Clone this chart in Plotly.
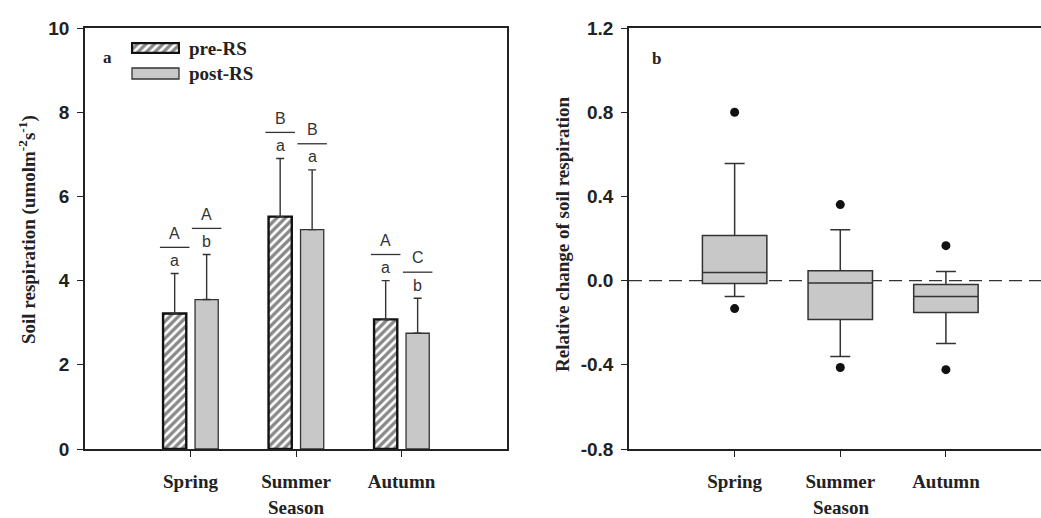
import plotly.graph_objects as go

# ---------------- data ----------------
seasons = ["Spring", "Summer", "Autumn"]
pre_mean = [3.22, 5.52, 3.08]
pre_err = [0.95, 1.38, 0.92]
post_mean = [3.55, 5.21, 2.75]
post_err = [1.07, 1.42, 0.83]
pre_lower = ["a", "a", "a"]
pre_upper = ["A", "B", "A"]
post_lower = ["b", "a", "b"]
post_upper = ["A", "B", "C"]

box_q1 = [-0.014, -0.185, -0.152]
box_median = [0.038, -0.011, -0.076]
box_q3 = [0.214, 0.047, -0.019]
box_low = [-0.076, -0.361, -0.299]
box_high = [0.556, 0.242, 0.043]
out_season = ["Spring", "Spring", "Summer", "Summer", "Autumn", "Autumn"]
out_value = [0.80, -0.133, 0.361, -0.413, 0.166, -0.423]

left_ticks = [0, 2, 4, 6, 8, 10]
right_ticks = [-0.8, -0.4, 0.0, 0.4, 0.8, 1.2]
right_ticktext = ["-0.8", "-0.4", "0.0", "0.4", "0.8", "1.2"]

# ---------------- geometry helpers ----------------
W, H = 1041, 518
TOP, BOT = 28, 449
def px(x):
    return x / W
def py(y):
    return (BOT - y) / (BOT - TOP)

SERIF = "Times New Roman, Liberation Serif, serif"
SANS = "Arial, Liberation Sans, sans-serif"
AX = "#222222"
BAR_W = 0.22
PRE_OFF = -0.26
POST_OFF = 0.043
HATCH = dict(shape="/", fgcolor="#111111", bgcolor="white", size=6, solidity=0.55)

fig = go.Figure()

fig.add_trace(go.Bar(
    x=seasons, y=pre_mean, width=BAR_W, offset=PRE_OFF, name="pre-RS",
    marker=dict(color="white", pattern=HATCH, line=dict(color="#111111", width=2.4)),
    error_y=dict(type="data", symmetric=False, array=pre_err, arrayminus=[0 for _ in pre_err],
                 width=4, thickness=1.4, color="#333333"),
    xaxis="x", yaxis="y", showlegend=False))
fig.add_trace(go.Bar(
    x=seasons, y=post_mean, width=BAR_W, offset=POST_OFF, name="post-RS",
    marker=dict(color="#c8c8c8", line=dict(color="#333333", width=1.3)),
    error_y=dict(type="data", symmetric=False, array=post_err, arrayminus=[0 for _ in post_err],
                 width=4, thickness=1.4, color="#333333"),
    xaxis="x", yaxis="y", showlegend=False))

# significance letters
shapes = []
annotations = []
for i in range(len(seasons)):
    for mean, err, lo, up, off in [(pre_mean[i], pre_err[i], pre_lower[i], pre_upper[i], PRE_OFF),
                                   (post_mean[i], post_err[i], post_lower[i], post_upper[i], POST_OFF)]:
        top = mean + err
        c = i + off + BAR_W / 2
        shapes.append(dict(type="line", xref="x", yref="y", x0=c - 0.14, x1=c + 0.14,
                           y0=top + 0.62, y1=top + 0.62, line=dict(color="#333333", width=1.3)))
        annotations.append(dict(xref="x", yref="y", x=c, y=top + 0.31, text=lo, showarrow=False,
                                font=dict(family=SANS, size=16, color="#333333"),
                                xanchor="center", yanchor="middle"))
        annotations.append(dict(xref="x", yref="y", x=c, y=top + 0.96, text=up, showarrow=False,
                                font=dict(family=SANS, size=16, color="#333333"),
                                xanchor="center", yanchor="middle"))

# box plot (precomputed)
fig.add_trace(go.Box(
    x=seasons, q1=box_q1, median=box_median, q3=box_q3, lowerfence=box_low, upperfence=box_high,
    width=0.61, whiskerwidth=0.31, fillcolor="#c8c8c8", line=dict(color="#333333", width=1.5),
    boxpoints=False, xaxis="x2", yaxis="y2", showlegend=False))
fig.add_trace(go.Scatter(
    x=out_season, y=out_value, mode="markers", marker=dict(color="#111111", size=9),
    xaxis="x2", yaxis="y2", showlegend=False))

# legend swatch (hatched) on an inset axis
fig.add_trace(go.Bar(
    x=[0.5], y=[1], base=0, width=[1],
    marker=dict(color="white", pattern=HATCH, line=dict(color="#111111", width=2.4)),
    xaxis="x3", yaxis="y3", showlegend=False, hoverinfo="skip"))

# post-RS swatch
shapes.append(dict(type="rect", xref="paper", yref="paper", x0=px(132), x1=px(179),
                   y0=py(79), y1=py(68), fillcolor="#c8c8c8", line=dict(color="#333333", width=1.3)))
# dashed zero line right panel
shapes.append(dict(type="line", xref="x2 domain", yref="y2", x0=0, x1=1, y0=0, y1=0,
                   line=dict(color="#333333", width=1.3, dash="13px,7px"), layer="below"))

bold_serif = lambda s: dict(family=SERIF, size=s, color="#222222", weight="bold")
annotations += [
    dict(xref="paper", yref="paper", x=px(187), y=py(48), text="pre-RS", showarrow=False,
         xanchor="left", yanchor="middle", font=bold_serif(19)),
    dict(xref="paper", yref="paper", x=px(187), y=py(73), text="post-RS", showarrow=False,
         xanchor="left", yanchor="middle", font=bold_serif(19)),
    dict(xref="paper", yref="paper", x=px(107), y=py(57), text="a", showarrow=False,
         xanchor="center", yanchor="middle", font=bold_serif(17)),
    dict(xref="paper", yref="paper", x=px(656), y=py(58), text="b", showarrow=False,
         xanchor="center", yanchor="middle", font=bold_serif(17)),
    dict(xref="paper", yref="paper", x=px(27), y=py(230), textangle=-90, showarrow=False,
         xanchor="center", yanchor="middle",
         text="Soil respiration (umolm<sup>-2</sup>s<sup>-1</sup>)", font=bold_serif(19)),
    dict(xref="paper", yref="paper", x=px(563), y=py(234), textangle=-90, showarrow=False,
         xanchor="center", yanchor="middle",
         text="Relative change of soil respiration", font=bold_serif(19)),
    dict(xref="paper", yref="paper", x=px(296), y=py(507), text="Season", showarrow=False,
         xanchor="center", yanchor="middle", borderpad=0, font=bold_serif(19)),
    dict(xref="paper", yref="paper", x=px(841), y=py(507), text="Season", showarrow=False,
         xanchor="center", yanchor="middle", borderpad=0, font=bold_serif(19)),
]

tickfont_x = bold_serif(19)
tickfont_y = dict(family=SANS, size=19, color="#222222", weight="bold")
axis_common = dict(showgrid=False, zeroline=False, showline=True, linecolor=AX, linewidth=1.5,
                   ticks="outside", ticklen=6, tickwidth=1.3, tickcolor=AX)

fig.update_layout(
    width=W, height=H, margin=dict(l=0, r=0, t=TOP, b=H - BOT),
    paper_bgcolor="white", plot_bgcolor="white", barmode="overlay",
    xaxis=dict(domain=[px(85), px(507)], type="category", categoryorder="array", categoryarray=seasons,
               range=[-1, 3], mirror=True, tickfont=tickfont_x, ticklabelstandoff=8, **axis_common),
    yaxis=dict(range=[0, 10], tickvals=left_ticks, mirror=True, tickfont=tickfont_y,
               ticklabelstandoff=4, anchor="x", **axis_common),
    xaxis2=dict(domain=[px(629), 1], type="category", categoryorder="array", categoryarray=seasons,
                range=[-1, 2.9], mirror=True, tickfont=tickfont_x, ticklabelstandoff=8, anchor="y2",
                **axis_common),
    yaxis2=dict(range=[-0.8, 1.2], tickvals=right_ticks, ticktext=right_ticktext, mirror=False,
                tickfont=tickfont_y, ticklabelstandoff=4, anchor="x2", **axis_common),
    xaxis3=dict(domain=[px(131), px(180)], range=[-0.02, 1.02], visible=False, anchor="y3",
                fixedrange=True),
    yaxis3=dict(domain=[py(54), py(42)], range=[-0.1, 1.1], visible=False, anchor="x3",
                fixedrange=True),
    shapes=shapes, annotations=annotations,
)

fig.write_html("out.html")
